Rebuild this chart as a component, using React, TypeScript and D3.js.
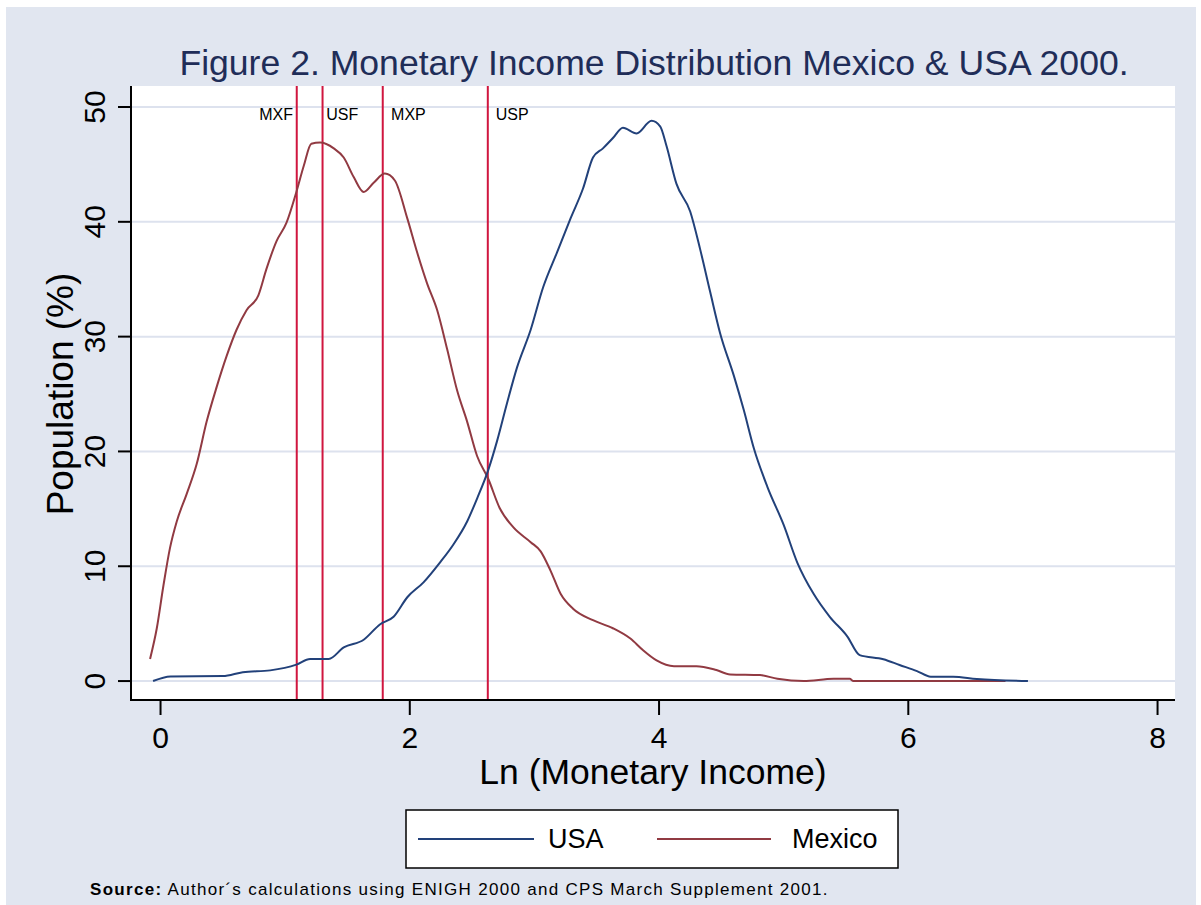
import * as d3 from "d3";

// Ln(monetary income) vs population share (%)
const usaX = [-0.06, 0.08, 0.5, 0.66, 0.88, 1.09, 1.2, 1.35, 1.47, 1.63, 1.76, 1.87, 1.98, 2.11, 2.24, 2.35, 2.46, 2.54, 2.63, 2.7, 2.78, 2.86, 2.97, 3.07, 3.18, 3.29, 3.39, 3.47, 3.55, 3.63, 3.71, 3.82, 3.94, 4.01, 4.06, 4.14, 4.25, 4.33, 4.41, 4.49, 4.6, 4.68, 4.76, 4.87, 5.0, 5.11, 5.24, 5.37, 5.51, 5.61, 5.8, 5.93, 6.07, 6.18, 6.36, 6.55, 6.96];
const usaY = [0, 0.4, 0.43, 0.77, 0.93, 1.43, 1.93, 1.93, 2.93, 3.6, 4.93, 5.6, 7.3, 8.6, 10.3, 11.9, 13.9, 15.9, 18.4, 20.9, 24.2, 27.3, 30.6, 34.3, 37.3, 40.3, 42.9, 45.6, 46.4, 47.3, 48.2, 47.7, 48.8, 48.3, 46.6, 43.3, 40.9, 37.6, 33.9, 30.3, 26.6, 23.6, 20.3, 16.9, 13.6, 10.3, 7.6, 5.6, 3.9, 2.26, 1.9, 1.4, 0.87, 0.38, 0.38, 0.17, 0];

const mexX = [-0.084, -0.03, 0.023, 0.076, 0.13, 0.21, 0.29, 0.37, 0.45, 0.53, 0.61, 0.69, 0.785, 0.85, 0.93, 1.01, 1.09, 1.15, 1.21, 1.28, 1.39, 1.47, 1.55, 1.63, 1.71, 1.8, 1.88, 1.98, 2.06, 2.14, 2.22, 2.3, 2.38, 2.46, 2.54, 2.63, 2.72, 2.83, 2.97, 3.05, 3.13, 3.21, 3.31, 3.47, 3.63, 3.77, 3.87, 3.98, 4.12, 4.3, 4.46, 4.57, 4.81, 4.95, 5.16, 5.4, 5.53, 5.56, 6.78];
const mexY = [1.93, 4.6, 8.3, 11.6, 13.9, 16.3, 18.9, 22.6, 25.6, 28.3, 30.6, 32.3, 33.6, 35.9, 38.3, 39.9, 42.6, 44.9, 46.8, 46.9, 46.4, 45.6, 43.9, 42.6, 43.4, 44.2, 43.6, 40.3, 37.3, 34.6, 32.3, 28.9, 25.3, 22.6, 19.6, 17.6, 15.1, 13.4, 12.1, 11.3, 9.6, 7.6, 6.3, 5.3, 4.6, 3.7, 2.7, 1.8, 1.3, 1.3, 0.96, 0.58, 0.52, 0.2, 0, 0.2, 0.2, 0, 0];

// poverty lines: label, position, where the label sits
const refNames = ["MXF", "USF", "MXP", "USP"];
const refX = [1.093, 1.3, 1.783, 2.626];
const refLabelX = [1.063, 1.33, 1.85, 2.69];
const refAnchor = ["end", "start", "start", "start"];

const xTicks = [0, 2, 4, 6, 8];
const yTicks = [0, 10, 20, 30, 40, 50];

const seriesNames = ["USA", "Mexico"];
const seriesColors = ["#22417a", "#913a42"];

const FONT = "'Liberation Sans', Arial, Helvetica, sans-serif";

export default function App() {
  const W = 1201;
  const H = 905;
  const left = 131, right = 1175, top = 86, bottom = 700;

  const x = d3.scaleLinear().domain([-0.237, 8.14]).range([left, right]);
  const y = d3.scaleLinear().domain([-1.65, 51.83]).range([bottom, top]);

  const line = d3
    .line<[number, number]>()
    .x((d) => x(d[0]))
    .y((d) => y(d[1]))
    .curve(d3.curveMonotoneX);

  const usa = usaX.map((v, i) => [v, usaY[i]] as [number, number]);
  const mex = mexX.map((v, i) => [v, mexY[i]] as [number, number]);

  return (
    <svg width={W} height={H} style={{ position: "absolute", left: 0, top: 0 }} fontFamily={FONT}>
      <rect x={0} y={0} width={W} height={H} fill="#ffffff" />
      <rect x={6} y={7} width={1190} height={H} fill="#e1e6f0" />
      <rect x={left} y={top} width={right - left} height={bottom - top} fill="#ffffff" />

      <text x={654} y={75} textAnchor="middle" fontSize={35.6} fill="#1f2d58">
        Figure 2. Monetary Income Distribution Mexico &amp; USA 2000.
      </text>

      {/* grid */}
      {yTicks.map((t) => (
        <line key={"g" + t} x1={left} x2={right} y1={y(t)} y2={y(t)} stroke="#dde2ee" strokeWidth={2} />
      ))}

      {/* reference lines */}
      {refX.map((v, i) => (
        <g key={refNames[i]}>
          <line x1={x(v)} x2={x(v)} y1={top} y2={bottom} stroke="#d0163f" strokeWidth={2} />
          <text x={x(refLabelX[i])} y={120} fontSize={16} textAnchor={refAnchor[i]} fill="#000">
            {refNames[i]}
          </text>
        </g>
      ))}

      <path d={line(mex) ?? ""} fill="none" stroke={seriesColors[1]} strokeWidth={2} />
      <path d={line(usa) ?? ""} fill="none" stroke={seriesColors[0]} strokeWidth={2} />

      {/* axes */}
      <line x1={left} x2={left} y1={top} y2={bottom + 1} stroke="#000" strokeWidth={2} />
      <line x1={left - 1} x2={right} y1={bottom} y2={bottom} stroke="#000" strokeWidth={2} />
      {yTicks.map((t) => (
        <g key={"y" + t}>
          <line x1={left - 13} x2={left} y1={y(t)} y2={y(t)} stroke="#000" strokeWidth={2} />
          <text transform={`translate(105,${y(t)}) rotate(-90)`} textAnchor="middle" fontSize={30} fill="#000">
            {t}
          </text>
        </g>
      ))}
      {xTicks.map((t) => (
        <g key={"x" + t}>
          <line x1={x(t)} x2={x(t)} y1={bottom} y2={bottom + 15} stroke="#000" strokeWidth={2} />
          <text x={x(t)} y={748} textAnchor="middle" fontSize={30} fill="#000">
            {t}
          </text>
        </g>
      ))}

      <text x={653} y={784} textAnchor="middle" fontSize={35.5} fill="#000">
        Ln (Monetary Income)
      </text>
      <text transform={`translate(73,394) rotate(-90)`} textAnchor="middle" fontSize={37} fill="#000">
        Population (%)
      </text>

      {/* legend */}
      <rect x={406} y={810} width={492} height={58} fill="#fff" stroke="#000" strokeWidth={1.5} />
      <line x1={418} x2={534} y1={839} y2={839} stroke={seriesColors[0]} strokeWidth={2} />
      <text x={548} y={848} fontSize={27} fill="#000">{seriesNames[0]}</text>
      <line x1={657} x2={771} y1={839} y2={839} stroke={seriesColors[1]} strokeWidth={2} />
      <text x={792} y={848} fontSize={27} fill="#000">{seriesNames[1]}</text>

      <text x={90} y={895} fontSize={17} letterSpacing={1.3} fill="#000">
        <tspan fontWeight="bold">Source:</tspan> Author´s calculations using ENIGH 2000 and CPS March Supplement 2001.
      </text>
    </svg>
  );
}
